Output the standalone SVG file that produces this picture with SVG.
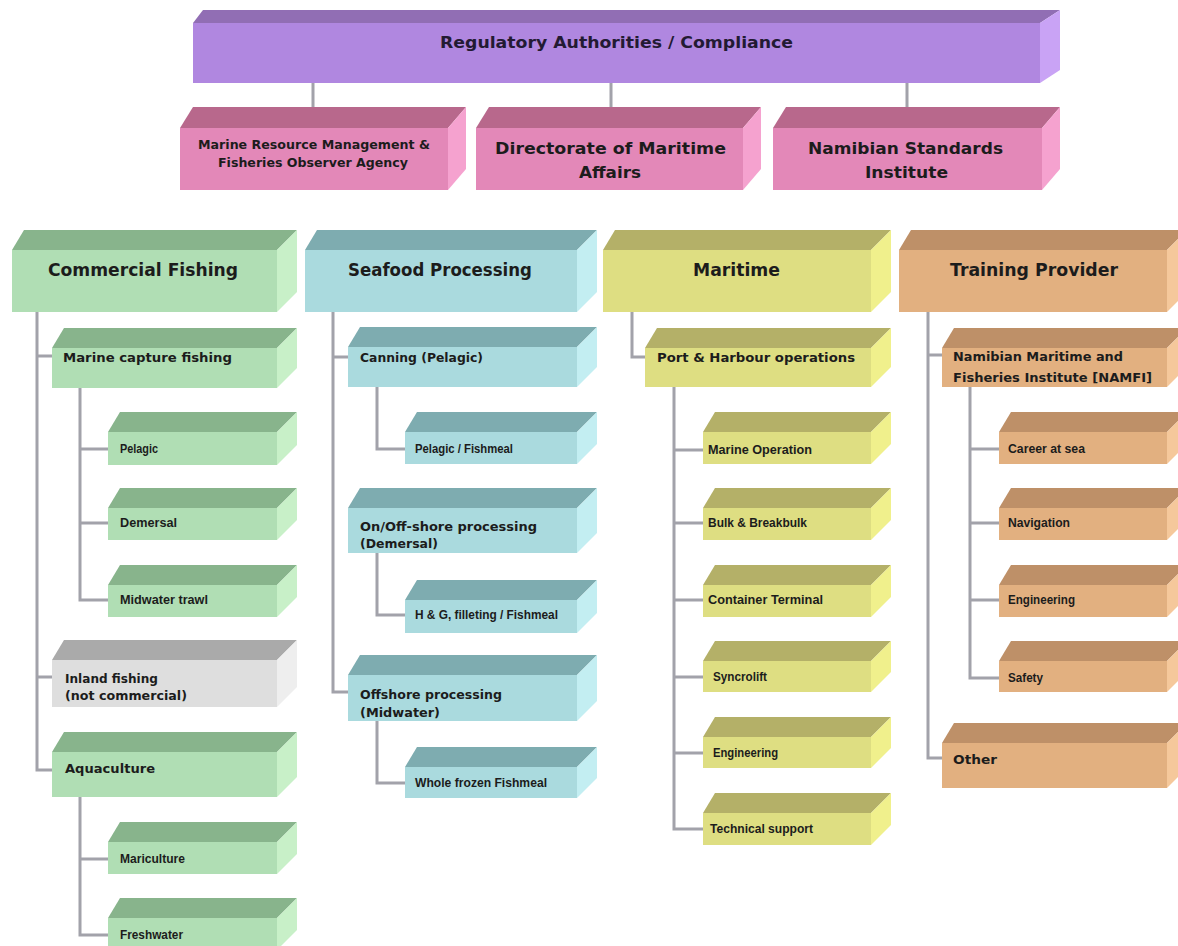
<svg xmlns="http://www.w3.org/2000/svg" width="1178" height="946" viewBox="0 0 1178 946">
<style>
.bg{fill:#ffffff}
.pu-t{fill:#916eb4}.pu-f{fill:#b087e0}.pu-s{fill:#c9a3f5}
.pk-t{fill:#b8688c}.pk-f{fill:#e388b8}.pk-s{fill:#f5a2cf}
.gr-t{fill:#88b48c}.gr-f{fill:#b0deb4}.gr-s{fill:#c8f0c8}
.gy-t{fill:#aaaaaa}.gy-f{fill:#dedede}.gy-s{fill:#eeeeee}
.bl-t{fill:#7eacb0}.bl-f{fill:#aadade}.bl-s{fill:#c3eef2}
.ye-t{fill:#b4b068}.ye-f{fill:#dede82}.ye-s{fill:#f0f08c}
.or-t{fill:#be9068}.or-f{fill:#e2b080}.or-s{fill:#f5c89b}
.conn{fill:none;stroke:#a2a2aa;stroke-width:3;stroke-linejoin:miter}
text{fill:#1c1c1c;font-weight:bold}
.h{font-family:"DejaVu Sans",sans-serif;font-size:17px}
.l2{font-family:"DejaVu Sans",sans-serif;font-size:13px}
.l3{font-family:"Liberation Sans",Arial,sans-serif;font-size:12px}
.pk1{font-family:"DejaVu Sans",sans-serif;font-size:12px}
.pk2{font-family:"DejaVu Sans",sans-serif;font-size:16px}
.reg{font-family:"DejaVu Sans",sans-serif;font-size:16px;fill:#231a33}
</style>
<rect class="bg" x="0" y="0" width="1178" height="946"/>

<g id="connectors">
<path class="conn" d="M313,83 V108 M611,83 V108 M907,83 V108"/>
<path class="conn" d="M37,312 V770 H52 M37,356 H52 M37,677 H52"/>
<path class="conn" d="M80,388 V600 H108 M80,449 H108 M80,523 H108"/>
<path class="conn" d="M80,797 V935 H108 M80,859 H108"/>
<path class="conn" d="M333,312 V692 H348 M333,357 H348"/>
<path class="conn" d="M377,387 V449 H405"/>
<path class="conn" d="M377,553 V615 H405"/>
<path class="conn" d="M377,721 V783 H405"/>
<path class="conn" d="M632,312 V357 H645"/>
<path class="conn" d="M674,387 V829 H703 M674,450 H703 M674,523 H703 M674,600 H703 M674,677 H703 M674,753 H703"/>
<path class="conn" d="M928,312 V758 H942 M928,355 H942"/>
<path class="conn" d="M970,387 V678 H999 M970,449 H999 M970,523 H999 M970,600 H999"/>
</g>

<g id="regulatory">
<polygon class="pu-t" points="193,23 203,10 1060,10 1040,23"/>
<polygon class="pu-s" points="1040,23 1060,10 1060,70 1040,83"/>
<rect class="pu-f" x="193" y="23" width="847" height="60"/>
<text class="reg" x="440" y="48" textLength="353" lengthAdjust="spacingAndGlyphs">Regulatory Authorities / Compliance</text>
</g>

<g id="mrm">
<polygon class="pk-t" points="180,128 193,107 466,107 448,128"/>
<polygon class="pk-s" points="448,128 466,107 466,169 448,190"/>
<rect class="pk-f" x="180" y="128" width="268" height="62"/>
<text class="pk1" x="198" y="149" textLength="232" lengthAdjust="spacingAndGlyphs">Marine Resource Management &amp;</text>
<text class="pk1" x="218" y="167" textLength="190" lengthAdjust="spacingAndGlyphs">Fisheries Observer Agency</text>
</g>

<g id="dma">
<polygon class="pk-t" points="476,128 489,107 761,107 743,128"/>
<polygon class="pk-s" points="743,128 761,107 761,169 743,190"/>
<rect class="pk-f" x="476" y="128" width="267" height="62"/>
<text class="pk2" x="495" y="154" textLength="231" lengthAdjust="spacingAndGlyphs">Directorate of Maritime</text>
<text class="pk2" x="579" y="178" textLength="62" lengthAdjust="spacingAndGlyphs">Affairs</text>
</g>

<g id="nsi">
<polygon class="pk-t" points="773,128 786,107 1060,107 1042,128"/>
<polygon class="pk-s" points="1042,128 1060,107 1060,169 1042,190"/>
<rect class="pk-f" x="773" y="128" width="269" height="62"/>
<text class="pk2" x="808" y="154" textLength="195" lengthAdjust="spacingAndGlyphs">Namibian Standards</text>
<text class="pk2" x="865" y="178" textLength="83" lengthAdjust="spacingAndGlyphs">Institute</text>
</g>

<!-- Commercial Fishing column -->
<g id="commercial-fishing">
<polygon class="gr-t" points="12,250 24,230 297,230 277,250"/>
<polygon class="gr-s" points="277,250 297,230 297,292 277,312"/>
<rect class="gr-f" x="12" y="250" width="265" height="62"/>
<text class="h" x="48" y="276" textLength="190" lengthAdjust="spacingAndGlyphs">Commercial Fishing</text>
</g>
<g id="marine-capture">
<polygon class="gr-t" points="52,348 64,328 297,328 277,348"/>
<polygon class="gr-s" points="277,348 297,328 297,368 277,388"/>
<rect class="gr-f" x="52" y="348" width="225" height="40"/>
<text class="l2" x="63" y="361.5" textLength="169" lengthAdjust="spacingAndGlyphs">Marine capture fishing</text>
</g>
<g id="pelagic">
<polygon class="gr-t" points="108,432 120,412 297,412 277,432"/>
<polygon class="gr-s" points="277,432 297,412 297,445 277,465"/>
<rect class="gr-f" x="108" y="432" width="169" height="33"/>
<text class="l3" x="120" y="453.3" textLength="38" lengthAdjust="spacingAndGlyphs">Pelagic</text>
</g>
<g id="demersal">
<polygon class="gr-t" points="108,508 120,488 297,488 277,508"/>
<polygon class="gr-s" points="277,508 297,488 297,520 277,540"/>
<rect class="gr-f" x="108" y="508" width="169" height="32"/>
<text class="l3" x="120" y="527.3" textLength="57" lengthAdjust="spacingAndGlyphs">Demersal</text>
</g>
<g id="midwater-trawl">
<polygon class="gr-t" points="108,585 120,565 297,565 277,585"/>
<polygon class="gr-s" points="277,585 297,565 297,597 277,617"/>
<rect class="gr-f" x="108" y="585" width="169" height="32"/>
<text class="l3" x="120" y="604.3" textLength="88" lengthAdjust="spacingAndGlyphs">Midwater trawl</text>
</g>
<g id="inland-fishing">
<polygon class="gy-t" points="52,660 64,640 297,640 277,660"/>
<polygon class="gy-s" points="277,660 297,640 297,687 277,707"/>
<rect class="gy-f" x="52" y="660" width="225" height="47"/>
<text class="l2" x="65" y="682.5" textLength="93" lengthAdjust="spacingAndGlyphs">Inland fishing</text>
<text class="l2" x="65" y="699.5" textLength="122" lengthAdjust="spacingAndGlyphs">(not commercial)</text>
</g>
<g id="aquaculture">
<polygon class="gr-t" points="52,752 64,732 297,732 277,752"/>
<polygon class="gr-s" points="277,752 297,732 297,777 277,797"/>
<rect class="gr-f" x="52" y="752" width="225" height="45"/>
<text class="l2" x="65" y="772.5" textLength="90" lengthAdjust="spacingAndGlyphs">Aquaculture</text>
</g>
<g id="mariculture">
<polygon class="gr-t" points="108,842 120,822 297,822 277,842"/>
<polygon class="gr-s" points="277,842 297,822 297,854 277,874"/>
<rect class="gr-f" x="108" y="842" width="169" height="32"/>
<text class="l3" x="120" y="863.3" textLength="65" lengthAdjust="spacingAndGlyphs">Mariculture</text>
</g>
<g id="freshwater">
<polygon class="gr-t" points="108,918 120,898 297,898 277,918"/>
<polygon class="gr-s" points="277,918 297,898 297,930 277,950"/>
<rect class="gr-f" x="108" y="918" width="169" height="32"/>
<text class="l3" x="120" y="939.3" textLength="63" lengthAdjust="spacingAndGlyphs">Freshwater</text>
</g>

<!-- Seafood Processing column -->
<g id="seafood-processing">
<polygon class="bl-t" points="305,250 317,230 597,230 577,250"/>
<polygon class="bl-s" points="577,250 597,230 597,292 577,312"/>
<rect class="bl-f" x="305" y="250" width="272" height="62"/>
<text class="h" x="348" y="276" textLength="184" lengthAdjust="spacingAndGlyphs">Seafood Processing</text>
</g>
<g id="canning">
<polygon class="bl-t" points="348,347 360,327 597,327 577,347"/>
<polygon class="bl-s" points="577,347 597,327 597,367 577,387"/>
<rect class="bl-f" x="348" y="347" width="229" height="40"/>
<text class="l2" x="360" y="361.5" textLength="123" lengthAdjust="spacingAndGlyphs">Canning (Pelagic)</text>
</g>
<g id="pelagic-fishmeal">
<polygon class="bl-t" points="405,432 417,412 597,412 577,432"/>
<polygon class="bl-s" points="577,432 597,412 597,444 577,464"/>
<rect class="bl-f" x="405" y="432" width="172" height="32"/>
<text class="l3" x="415" y="453.3" textLength="98" lengthAdjust="spacingAndGlyphs">Pelagic / Fishmeal</text>
</g>
<g id="onoff-shore">
<polygon class="bl-t" points="348,508 360,488 597,488 577,508"/>
<polygon class="bl-s" points="577,508 597,488 597,533 577,553"/>
<rect class="bl-f" x="348" y="508" width="229" height="45"/>
<text class="l2" x="360" y="530.5" textLength="177" lengthAdjust="spacingAndGlyphs">On/Off-shore processing</text>
<text class="l2" x="360" y="547.5" textLength="78" lengthAdjust="spacingAndGlyphs">(Demersal)</text>
</g>
<g id="hg-filleting">
<polygon class="bl-t" points="405,600 417,580 597,580 577,600"/>
<polygon class="bl-s" points="577,600 597,580 597,613 577,633"/>
<rect class="bl-f" x="405" y="600" width="172" height="33"/>
<text class="l3" x="415" y="619.3" textLength="143" lengthAdjust="spacingAndGlyphs">H &amp; G, filleting / Fishmeal</text>
</g>
<g id="offshore-processing">
<polygon class="bl-t" points="348,675 360,655 597,655 577,675"/>
<polygon class="bl-s" points="577,675 597,655 597,701 577,721"/>
<rect class="bl-f" x="348" y="675" width="229" height="46"/>
<text class="l2" x="360" y="698.5" textLength="142" lengthAdjust="spacingAndGlyphs">Offshore processing</text>
<text class="l2" x="360" y="716.5" textLength="80" lengthAdjust="spacingAndGlyphs">(Midwater)</text>
</g>
<g id="whole-frozen">
<polygon class="bl-t" points="405,767 417,747 597,747 577,767"/>
<polygon class="bl-s" points="577,767 597,747 597,778 577,798"/>
<rect class="bl-f" x="405" y="767" width="172" height="31"/>
<text class="l3" x="415" y="787.3" textLength="132" lengthAdjust="spacingAndGlyphs">Whole frozen Fishmeal</text>
</g>

<!-- Maritime column -->
<g id="maritime">
<polygon class="ye-t" points="603,250 615,230 891,230 871,250"/>
<polygon class="ye-s" points="871,250 891,230 891,292 871,312"/>
<rect class="ye-f" x="603" y="250" width="268" height="62"/>
<text class="h" x="693" y="276" textLength="87" lengthAdjust="spacingAndGlyphs">Maritime</text>
</g>
<g id="port-harbour">
<polygon class="ye-t" points="645,348 657,328 891,328 871,348"/>
<polygon class="ye-s" points="871,348 891,328 891,367 871,387"/>
<rect class="ye-f" x="645" y="348" width="226" height="39"/>
<text class="l2" x="657" y="361.5" textLength="198" lengthAdjust="spacingAndGlyphs">Port &amp; Harbour operations</text>
</g>
<g id="marine-operation">
<polygon class="ye-t" points="703,432 715,412 891,412 871,432"/>
<polygon class="ye-s" points="871,432 891,412 891,444 871,464"/>
<rect class="ye-f" x="703" y="432" width="168" height="32"/>
<text class="l3" x="708" y="454.3" textLength="104" lengthAdjust="spacingAndGlyphs">Marine Operation</text>
</g>
<g id="bulk-breakbulk">
<polygon class="ye-t" points="703,508 715,488 891,488 871,508"/>
<polygon class="ye-s" points="871,508 891,488 891,520 871,540"/>
<rect class="ye-f" x="703" y="508" width="168" height="32"/>
<text class="l3" x="708" y="527.3" textLength="99" lengthAdjust="spacingAndGlyphs">Bulk &amp; Breakbulk</text>
</g>
<g id="container-terminal">
<polygon class="ye-t" points="703,585 715,565 891,565 871,585"/>
<polygon class="ye-s" points="871,585 891,565 891,597 871,617"/>
<rect class="ye-f" x="703" y="585" width="168" height="32"/>
<text class="l3" x="708" y="604.3" textLength="115" lengthAdjust="spacingAndGlyphs">Container Terminal</text>
</g>
<g id="syncrolift">
<polygon class="ye-t" points="703,661 715,641 891,641 871,661"/>
<polygon class="ye-s" points="871,661 891,641 891,672 871,692"/>
<rect class="ye-f" x="703" y="661" width="168" height="31"/>
<text class="l3" x="713" y="681.3" textLength="54" lengthAdjust="spacingAndGlyphs">Syncrolift</text>
</g>
<g id="maritime-engineering">
<polygon class="ye-t" points="703,737 715,717 891,717 871,737"/>
<polygon class="ye-s" points="871,737 891,717 891,748 871,768"/>
<rect class="ye-f" x="703" y="737" width="168" height="31"/>
<text class="l3" x="713" y="757.3" textLength="65" lengthAdjust="spacingAndGlyphs">Engineering</text>
</g>
<g id="technical-support">
<polygon class="ye-t" points="703,813 715,793 891,793 871,813"/>
<polygon class="ye-s" points="871,813 891,793 891,825 871,845"/>
<rect class="ye-f" x="703" y="813" width="168" height="32"/>
<text class="l3" x="710" y="833.3" textLength="103" lengthAdjust="spacingAndGlyphs">Technical support</text>
</g>

<!-- Training Provider column -->
<g id="training-provider">
<polygon class="or-t" points="899,250 911,230 1187,230 1167,250"/>
<polygon class="or-s" points="1167,250 1187,230 1187,292 1167,312"/>
<rect class="or-f" x="899" y="250" width="268" height="62"/>
<text class="h" x="950" y="276" textLength="168" lengthAdjust="spacingAndGlyphs">Training Provider</text>
</g>
<g id="namfi">
<polygon class="or-t" points="942,348 954,328 1187,328 1167,348"/>
<polygon class="or-s" points="1167,348 1187,328 1187,367 1167,387"/>
<rect class="or-f" x="942" y="348" width="225" height="39"/>
<text class="l2" x="953" y="360.5" textLength="170" lengthAdjust="spacingAndGlyphs">Namibian Maritime and</text>
<text class="l2" x="953" y="381.5" textLength="199" lengthAdjust="spacingAndGlyphs">Fisheries Institute [NAMFI]</text>
</g>
<g id="career-at-sea">
<polygon class="or-t" points="999,432 1011,412 1187,412 1167,432"/>
<polygon class="or-s" points="1167,432 1187,412 1187,444 1167,464"/>
<rect class="or-f" x="999" y="432" width="168" height="32"/>
<text class="l3" x="1008" y="453.3" textLength="77" lengthAdjust="spacingAndGlyphs">Career at sea</text>
</g>
<g id="navigation">
<polygon class="or-t" points="999,508 1011,488 1187,488 1167,508"/>
<polygon class="or-s" points="1167,508 1187,488 1187,520 1167,540"/>
<rect class="or-f" x="999" y="508" width="168" height="32"/>
<text class="l3" x="1008" y="527.3" textLength="62" lengthAdjust="spacingAndGlyphs">Navigation</text>
</g>
<g id="training-engineering">
<polygon class="or-t" points="999,585 1011,565 1187,565 1167,585"/>
<polygon class="or-s" points="1167,585 1187,565 1187,597 1167,617"/>
<rect class="or-f" x="999" y="585" width="168" height="32"/>
<text class="l3" x="1008" y="604.3" textLength="67" lengthAdjust="spacingAndGlyphs">Engineering</text>
</g>
<g id="safety">
<polygon class="or-t" points="999,661 1011,641 1187,641 1167,661"/>
<polygon class="or-s" points="1167,661 1187,641 1187,672 1167,692"/>
<rect class="or-f" x="999" y="661" width="168" height="31"/>
<text class="l3" x="1008" y="682.3" textLength="35" lengthAdjust="spacingAndGlyphs">Safety</text>
</g>
<g id="other">
<polygon class="or-t" points="942,743 954,723 1187,723 1167,743"/>
<polygon class="or-s" points="1167,743 1187,723 1187,768 1167,788"/>
<rect class="or-f" x="942" y="743" width="225" height="45"/>
<text class="l2" x="953" y="763.5" textLength="44" lengthAdjust="spacingAndGlyphs">Other</text>
</g>
</svg>
